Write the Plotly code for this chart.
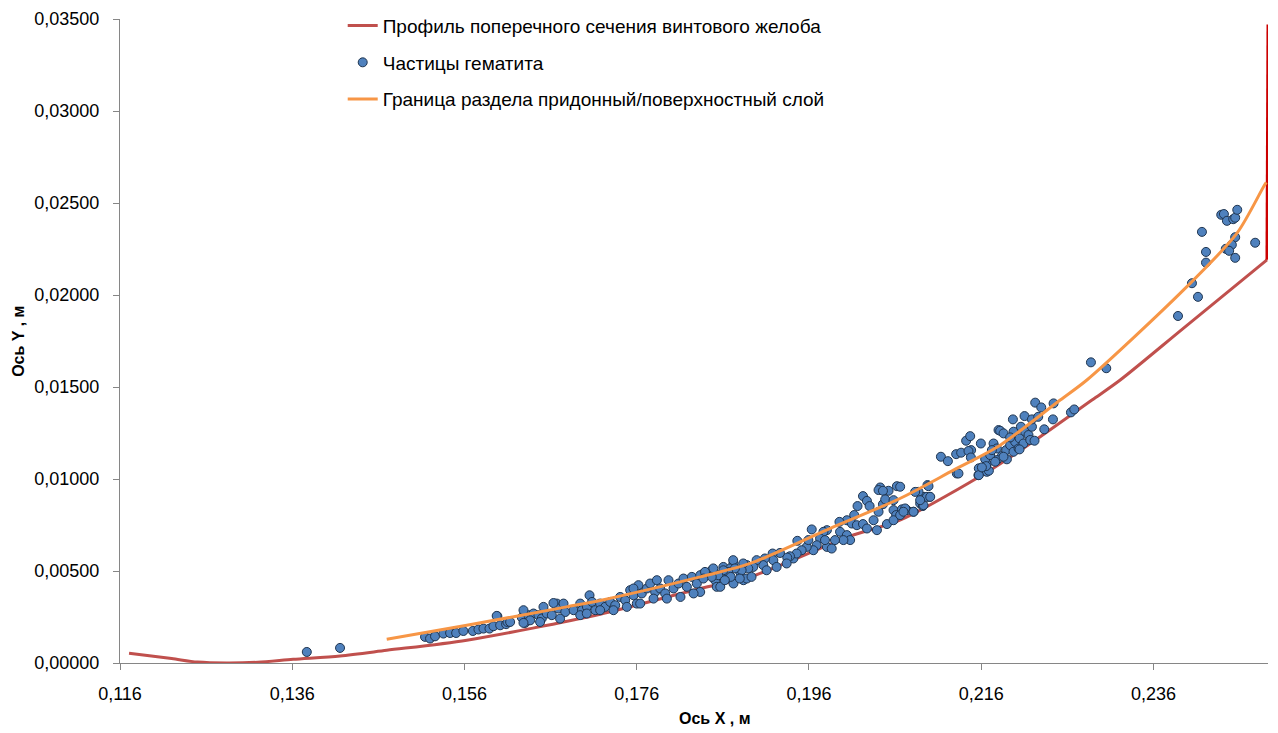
import plotly.graph_objects as go

# ---------------- data ----------------
profile_x = [0.11705, 0.1220, 0.1250, 0.1284, 0.1320, 0.1361, 0.14155, 0.14697, 0.15627,
             0.17175, 0.18337, 0.18917, 0.2008, 0.20656, 0.21704, 0.2220, 0.22886,
             0.23214, 0.2395, 0.24918]
profile_y = [0.00053, 0.00024, 0.00005, 0.0, 0.00004, 0.0002, 0.00038, 0.00069, 0.00124,
             0.00265, 0.00405, 0.00468, 0.0069, 0.00776, 0.01048, 0.01202, 0.01429,
             0.01538, 0.0182, 0.02191]

wall_x = [0.24918, 0.24930]
wall_y = [0.02191, 0.0347]

boundary_x = [0.14697, 0.15627, 0.16784, 0.17175, 0.18337, 0.18917, 0.19885, 0.20656,
              0.21278, 0.2182, 0.22517, 0.22827, 0.2395, 0.2457, 0.2488, 0.2491]
boundary_y = [0.00129, 0.00205, 0.00305, 0.0034, 0.00468, 0.00541, 0.0074, 0.00894,
              0.01048, 0.01184, 0.01429, 0.01538, 0.02028, 0.02336, 0.0259, 0.02612]

particles_x = [
    0.13769, 0.14155,
    0.15142, 0.152, 0.15258, 0.15355, 0.15433, 0.15503, 0.15587, 0.15697, 0.15762, 0.1582,
    0.1589, 0.15936, 0.15982, 0.15974, 0.16014, 0.16083, 0.16099, 0.16266, 0.16304, 0.16343,
    0.16401, 0.16459, 0.16498, 0.16556, 0.16614, 0.16672, 0.16692, 0.1675, 0.1677, 0.16867,
    0.16944, 0.16964, 0.17022, 0.17052, 0.17081, 0.17119, 0.17175, 0.17234, 0.17292, 0.1735,
    0.17408, 0.17466, 0.17524, 0.17563, 0.1762, 0.17659, 0.17718, 0.17756, 0.17814, 0.17834,
    0.17872, 0.1793, 0.17969, 0.18027, 0.18085, 0.18143, 0.18182, 0.1824, 0.18298, 0.18375,
    0.18472, 0.1851, 0.18606, 0.18664, 0.18723, 0.18801, 0.18878, 0.16285, 0.16517, 0.16633,
    0.17601, 0.16362, 0.16944, 0.17175, 0.17485, 0.17795, 0.18108, 0.18337, 0.18529, 0.18723,
    0.18839, 0.16285,
    0.1613, 0.16478, 0.1671, 0.1702, 0.1733, 0.1764, 0.1795, 0.1826, 0.1857, 0.18878,
    0.17562, 0.18337, 0.18685, 0.19419, 0.19808,
    0.20621, 0.20427, 0.20408, 0.20524, 0.20459, 0.20227, 0.20273, 0.20164, 0.20304, 0.20459,
    0.20485, 0.20582, 0.20582, 0.20613, 0.20679, 0.20737, 0.20814, 0.20891, 0.20937, 0.20999,
    0.20976, 0.20872, 0.20922, 0.20125, 0.2004, 0.20098, 0.20156, 0.20227, 0.20273, 0.2035,
    0.20389, 0.20505, 0.20582, 0.20408, 0.19954, 0.19961, 0.2004, 0.20078, 0.2, 0.19902,
    0.19808, 0.19768, 0.19632, 0.19729, 0.1969, 0.19651, 0.19574, 0.19593, 0.19465, 0.19515,
    0.19457, 0.19379, 0.19348, 0.19263, 0.19178, 0.19186, 0.19088, 0.19069, 0.18992, 0.18953,
    0.18895, 0.18837, 0.18818, 0.1872, 0.1874, 0.18662, 0.18691, 0.18606, 0.18548, 0.18489,
    0.18471, 0.18393, 0.18374, 0.18933, 0.18797, 0.18623, 0.19108, 0.19224, 0.19341, 0.19786,
    0.19864, 0.21317, 0.21568, 0.21665,
    0.20717, 0.20814, 0.2093, 0.20969, 0.21008, 0.20988, 0.20833, 0.20891, 0.20659, 0.20697,
    0.20659,
    0.21132, 0.21213, 0.21336, 0.21309, 0.21367, 0.21425, 0.21472, 0.21483, 0.21452, 0.2148,
    0.21596, 0.21572, 0.21572, 0.21689, 0.21665, 0.21646, 0.21743, 0.21801, 0.2182, 0.21859,
    0.2184, 0.21782, 0.21782, 0.2189, 0.21936, 0.21975, 0.21994, 0.21975, 0.22033, 0.22045,
    0.22061, 0.22111, 0.22091, 0.22149, 0.22169, 0.22219, 0.22189, 0.22045, 0.21898, 0.21859,
    0.21704, 0.21724, 0.21936, 0.21762, 0.21657, 0.21608,
    0.22227, 0.22297, 0.2244, 0.22642, 0.2268, 0.22433, 0.22332, 0.21968, 0.22103, 0.22189,
    0.22262,
    0.22874, 0.23052, 0.23885, 0.24047, 0.24117, 0.2421, 0.2421, 0.24163, 0.24387, 0.24418,
    0.24453, 0.24526, 0.24549, 0.24573, 0.24549, 0.2451, 0.2444, 0.24479, 0.24549, 0.24781,
]
particles_y = [
    0.0006, 0.00082,
    0.00142, 0.00133, 0.00145, 0.0016, 0.00163, 0.00163, 0.00174, 0.00174, 0.00182, 0.00187,
    0.00187, 0.002, 0.00254, 0.00256, 0.00205, 0.00211, 0.00223, 0.00247, 0.00218, 0.0026,
    0.00269, 0.0026, 0.00242, 0.00269, 0.0026, 0.00323, 0.00296, 0.00323, 0.00277, 0.00287,
    0.00323, 0.00287, 0.00305, 0.00368, 0.00332, 0.00287, 0.00323, 0.00305, 0.00332, 0.00314,
    0.00359, 0.00341, 0.00396, 0.00368, 0.00423, 0.00378, 0.00405, 0.00432, 0.00386, 0.0045,
    0.00405, 0.00378, 0.0045, 0.00405, 0.00432, 0.00459, 0.00414, 0.00468, 0.00432, 0.00486,
    0.00504, 0.0045, 0.00522, 0.00477, 0.00541, 0.00495, 0.00532, 0.00287, 0.00305, 0.00326,
    0.00323, 0.00232, 0.0026, 0.00287, 0.00305, 0.0035, 0.00359, 0.00386, 0.00414, 0.00432,
    0.0045, 0.00218,
    0.00223, 0.00223, 0.00241, 0.00269, 0.00287, 0.00323, 0.0035, 0.00378, 0.00414, 0.00459,
    0.00405, 0.00477, 0.00514, 0.00568, 0.00631,
    0.00961, 0.00954, 0.0094, 0.00936, 0.00936, 0.00907, 0.00881, 0.00853, 0.00853, 0.00863,
    0.00889, 0.00885, 0.00831, 0.00804, 0.00835, 0.00831, 0.00822, 0.00867, 0.00903, 0.00903,
    0.00967, 0.0093, 0.00853, 0.00804, 0.00776, 0.00758, 0.00749, 0.00755, 0.00731, 0.00776,
    0.00722, 0.00755, 0.00776, 0.00822, 0.00767, 0.00713, 0.00695, 0.00668, 0.00668, 0.00668,
    0.00722, 0.00713, 0.00726, 0.00677, 0.0064, 0.00613, 0.00631, 0.00668, 0.00664, 0.00613,
    0.00595, 0.0058, 0.00573, 0.00598, 0.00595, 0.00559, 0.00568, 0.00532, 0.00559, 0.00522,
    0.00514, 0.00541, 0.00504, 0.00559, 0.00514, 0.00495, 0.00468, 0.00504, 0.00477, 0.00514,
    0.00468, 0.00495, 0.00459, 0.00468, 0.00459, 0.0045, 0.00504, 0.00522, 0.00541, 0.00668,
    0.00622, 0.0103, 0.01021, 0.01039,
    0.0084, 0.00822, 0.00858, 0.00903, 0.00903, 0.00961, 0.0093, 0.00885, 0.00804, 0.00822,
    0.00958,
    0.01121, 0.01097, 0.0103, 0.01135, 0.01143, 0.01208, 0.01233, 0.01157, 0.01152, 0.01117,
    0.01193, 0.01058, 0.01021, 0.01045, 0.01081, 0.01108, 0.01193, 0.01266, 0.01262, 0.01248,
    0.01125, 0.01103, 0.01166, 0.01157, 0.01184, 0.01257, 0.01202, 0.01148, 0.01166, 0.01221,
    0.01284, 0.01257, 0.01193, 0.01239, 0.01212, 0.01208, 0.01284, 0.01161, 0.01107, 0.01121,
    0.0113, 0.01157, 0.01226, 0.01094, 0.0107, 0.01063,
    0.01415, 0.01389, 0.01411, 0.01362, 0.01378, 0.01324, 0.0127, 0.01324, 0.01342, 0.01324,
    0.01338,
    0.01634, 0.01602, 0.01886, 0.02064, 0.0199, 0.02176, 0.02234, 0.02343, 0.02436, 0.0244,
    0.02403, 0.02412, 0.0242, 0.02463, 0.02314, 0.02273, 0.02251, 0.0224, 0.02202, 0.02284,
]

legend_names = [
    "Профиль поперечного сечения винтового желоба",
    "Частицы гематита",
    "Граница раздела придонный/поверхностный слой",
]

x_tickvals = [0.116, 0.136, 0.156, 0.176, 0.196, 0.216, 0.236]
y_tickvals = [0.0, 0.005, 0.01, 0.015, 0.02, 0.025, 0.03, 0.035]

# ---------------- figure ----------------
FONT = "Liberation Sans"
fig = go.Figure()

fig.add_trace(go.Scatter(
    x=profile_x, y=profile_y, mode="lines", name=legend_names[0],
    line=dict(color="#C0504D", width=3, shape="spline", smoothing=0.8),
    legendgroup="a", legendrank=1, cliponaxis=False,
))
fig.add_trace(go.Scatter(
    x=wall_x, y=wall_y, mode="lines", showlegend=False,
    line=dict(color="#CC0000", width=3), cliponaxis=False,
))
fig.add_trace(go.Scatter(
    x=particles_x, y=particles_y, mode="markers", name=legend_names[1],
    marker=dict(symbol="circle", size=9, color="#4F81BD",
                line=dict(color="#1F3550", width=1)),
    legendgroup="b", legendrank=2,
))
fig.add_trace(go.Scatter(
    x=boundary_x, y=boundary_y, mode="lines", name=legend_names[2],
    line=dict(color="#F79646", width=3, shape="spline", smoothing=0.8),
    legendgroup="c", legendrank=3, cliponaxis=False,
))

fig.update_layout(
    width=1278, height=733,
    margin=dict(l=120, r=10, t=19, b=70, autoexpand=False),
    paper_bgcolor="white", plot_bgcolor="white",
    separators=", ",
    font=dict(family=FONT, size=18, color="#000000"),
    showlegend=True,
    legend=dict(
        x=0.194, y=1.019, xanchor="left", yanchor="top",
        font=dict(family=FONT, size=19, color="#000000"),
        bgcolor="rgba(0,0,0,0)", traceorder="grouped", tracegroupgap=9,
    ),
    xaxis=dict(
        range=[0.116, 0.2493], tickvals=x_tickvals, tickformat=".3f",
        showgrid=False, zeroline=False, showline=True, linecolor="#868686", linewidth=1,
        ticks="outside", ticklen=6, tickcolor="#868686", ticklabelstandoff=8,
        tickfont=dict(family=FONT, size=18, color="#000000"),
    ),
    yaxis=dict(
        range=[0, 0.035], tickvals=y_tickvals, tickformat=".5f",
        showgrid=False, zeroline=False, showline=True, linecolor="#868686", linewidth=1,
        ticks="outside", ticklen=6, tickcolor="#868686", ticklabelstandoff=10,
        tickfont=dict(family=FONT, size=18, color="#000000"),
    ),
    annotations=[
        dict(text="<b>Ось X , м</b>", xref="paper", yref="paper",
             x=0.518, y=-0.086, xanchor="center", yanchor="middle", showarrow=False,
             font=dict(family=FONT, size=16, color="#000000")),
        dict(text="<b>Ось Y , м</b>", xref="paper", yref="paper",
             x=-0.089, y=0.5, xanchor="center", yanchor="middle", showarrow=False,
             textangle=-90,
             font=dict(family=FONT, size=16, color="#000000")),
    ],
)

fig.write_html("out.html", config={"displayModeBar": False},
               post_script="document.body.style.margin='0';")
